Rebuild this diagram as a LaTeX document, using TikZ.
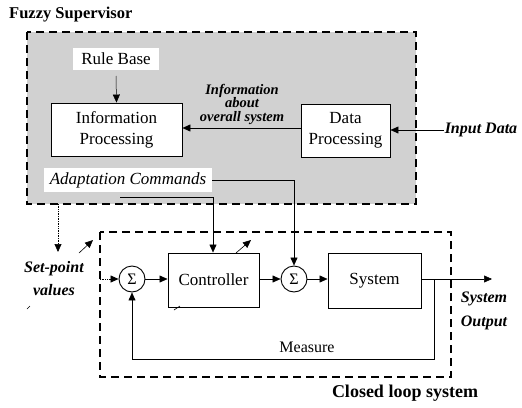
\documentclass[tikz,border=0pt]{standalone}
\usepackage{fontspec}
\setmainfont{Liberation Serif}
\usetikzlibrary{arrows.meta}
\tikzset{
  x=1pt, y=-1pt,
  frame/.style={draw=black, line width=2.2pt, dash pattern=on 8pt off 5pt},
  blockbox/.style={draw=black, line width=0.9pt, fill=white, inner sep=0pt, align=center,
    font=\fontsize{17}{19}\selectfont},
  sumnode/.style={draw=black, line width=0.9pt, circle, fill=white, minimum size=26pt, inner sep=0pt,
    font=\fontsize{16}{16}\selectfont},
  lab/.style={font=\fontsize{16}{13}\selectfont\bfseries\itshape, align=center, inner sep=1pt},
  flow/.style={line width=0.6pt, -{Triangle[length=8pt,width=7pt]}},
  faintflow/.style={line width=0.5pt, draw=black!75, -{Triangle[length=8pt,width=7pt]}, color=black},
  thin line/.style={line width=0.6pt},
  dotflow/.style={line width=0.7pt, densely dotted, -{Triangle[length=8pt,width=7pt]}},
}
\begin{document}
\begin{tikzpicture}
\useasboundingbox (0,0) rectangle (522,407);

% supervisor frame with screened background
\fill[black!18] (27,32) rectangle (416,204);
\draw[frame] (27,32) rectangle (416,204);
\node[anchor=west, font=\fontsize{16.5}{16.5}\selectfont\bfseries, inner sep=0pt] (title) at (9,15) {Fuzzy Supervisor};

\node[fill=white, inner xsep=8pt, inner ysep=5pt, font=\fontsize{17}{17}\selectfont] (rule) at (116,59) {Rule Base};
\node[blockbox, minimum width=131pt, minimum height=53pt] (ip) at (116.5,129.5) {Information\\[2pt]Processing};
\node[blockbox, minimum width=89pt, minimum height=53pt] (dp) at (345.5,130.5) {Data\\[2pt]Processing};
\node[lab, font=\fontsize{14.5}{13.5}\selectfont\bfseries\itshape, inner sep=0pt] (info) at (242,104) {Information\\about\\overall system};
\node[lab] (inp) at (481,130) {Input Data};
\node[fill=white, inner xsep=6pt, inner ysep=4pt, font=\fontsize{17}{17}\selectfont\itshape] (adapt) at (128,180) {Adaptation Commands};

% closed loop frame
\draw[frame] (100,232) rectangle (451,377);
\node[font=\fontsize{18}{18}\selectfont\bfseries, inner sep=0pt] (cltitle) at (405,393) {Closed loop system};

\node[lab, font=\fontsize{16}{23}\selectfont\bfseries\itshape] (setpt) at (54,279) {Set-point\\values};
\node[sumnode] (s1) at (132,279) {Σ};
\node[blockbox, minimum width=91pt, minimum height=54pt] (ctrl) at (213.5,280) {Controller};
\node[sumnode] (s2) at (294,279) {Σ};
\node[blockbox, minimum width=93pt, minimum height=55pt] (sys) at (374.5,280.5) {System};
\node[lab, font=\fontsize{16}{24}\selectfont\bfseries\itshape] (sysout) at (484,311) {System\\Output};
\node[font=\fontsize{16}{16}\selectfont, inner sep=0pt] (meas) at (307,347) {Measure};

% supervisor connections
\draw[faintflow] (116,76) -- (ip.north);
\draw[flow] (dp.west |- 0,128) -- (ip.east |- 0,128);
\draw[faintflow] (inp.west) -- (dp.east |- inp.west);
\coordinate (ctrlcmd) at (120,197);
\draw[flow] (ctrlcmd) -- (213,197) -- (ctrl.north -| 213,0);
\draw[flow] (adapt.east) -- (294,180) -- (s2.north);

% set-point input
\coordinate (spstart) at (58,204);
\coordinate (sphead) at (58,252);
\draw[dotflow] (spstart) -- (sphead);
\coordinate (spin) at (100,279);
\draw[dotflow] (spin) -- (s1.west);

% loop signals
\draw[faintflow] (s1.east) -- (ctrl.west |- s1.east);
\draw[faintflow] (ctrl.east |- s2.west) -- (s2.west);
\draw[flow] (s2.east) -- (sys.west |- s2.east);
\coordinate (out) at (492,279);
\draw[faintflow] (sys.east |- out) -- (out);
\coordinate (fb) at (434,279);
\draw[faintflow] (fb) -- (434,359) -- (132,359) -- (s1.south);

% adjustment arrows (tails and heads)
\coordinate (adjA0) at (79,253);
\coordinate (adjA1) at (93,240);
\draw[flow] (adjA0) -- (adjA1);
\coordinate (tailA0) at (27,309);
\coordinate (tailA1) at (30,306);
\draw[thin line] (tailA0) -- (tailA1);
\coordinate (adjB0) at (236,253);
\coordinate (adjB1) at (251,240);
\draw[flow] (adjB0) -- (adjB1);
\coordinate (tailB0) at (174,310);
\coordinate (tailB1) at (180,306);
\draw[thin line] (tailB0) -- (tailB1);
\end{tikzpicture}
\end{document}
